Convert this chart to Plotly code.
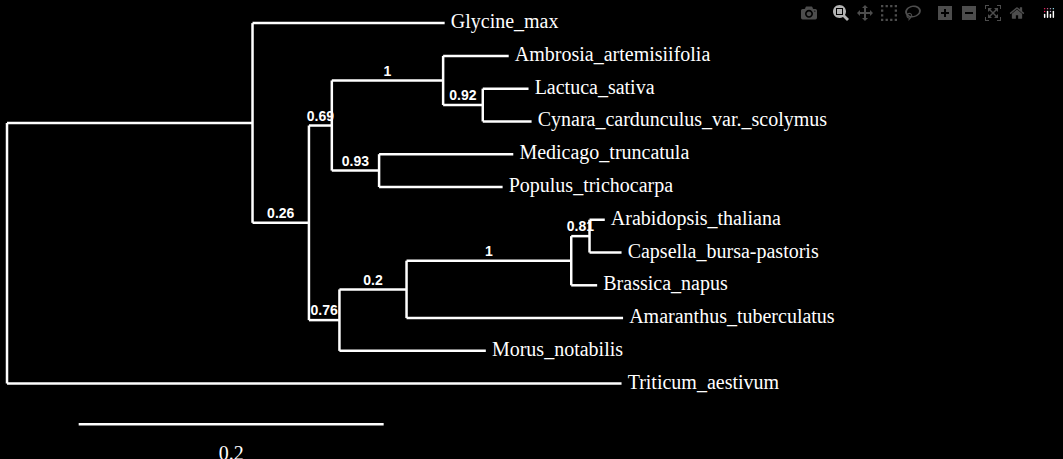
import plotly.graph_objects as go

# tree: node names, parent, branch length, support (internal nodes)
nodes = ["root", "A", "Glycine_max", "B", "C", "D", "Ambrosia_artemisiifolia", "E",
         "Lactuca_sativa", "Cynara_cardunculus_var._scolymus", "F", "Medicago_truncatula",
         "Populus_trichocarpa", "G", "H", "I", "J", "Arabidopsis_thaliana",
         "Capsella_bursa-pastoris", "Brassica_napus", "Amaranthus_tuberculatus",
         "Morus_notabilis", "Triticum_aestivum"]
parents = [None, "root", "A", "A", "B", "C", "D", "D", "E", "E", "C", "F", "F",
           "B", "G", "H", "I", "J", "J", "I", "H", "G", "root"]
lengths = [0, 0.161, 0.126, 0.037, 0.015, 0.073, 0.043, 0.026, 0.030, 0.032, 0.031,
           0.088, 0.081, 0.020, 0.044, 0.108, 0.012, 0.010, 0.021, 0.017, 0.142, 0.096, 0.403]
support = {"B": "0.26", "C": "0.69", "D": "1", "E": "0.92", "F": "0.93", "G": "0.76",
           "H": "0.2", "I": "1", "J": "0.81"}
scale_len = 0.2

children = {n: [] for n in nodes}
for n, p in zip(nodes, parents):
    if p:
        children[p].append(n)
blen = dict(zip(nodes, lengths))
par = dict(zip(nodes, parents))

xs, ys = {}, {}
leaf_i = [0]
def layout_node(n, x):
    xs[n] = x
    if not children[n]:
        ys[n] = leaf_i[0]
        leaf_i[0] += 1
    else:
        for c in children[n]:
            layout_node(c, x + blen[c])
        ys[n] = sum(ys[c] for c in children[n]) / len(children[n])
layout_node("root", 0)

lx, ly = [], []
for n in nodes:
    if par[n]:
        lx += [xs[par[n]], xs[n], None]
        ly += [ys[n], ys[n], None]
    if children[n]:
        cy = [ys[c] for c in children[n]]
        lx += [xs[n], xs[n], None]
        ly += [min(cy), max(cy), None]

leaves = [n for n in nodes if not children[n]]
fig = go.Figure()
fig.add_trace(go.Scatter(x=lx, y=ly, mode="lines", line=dict(color="white", width=2.5),
                         hoverinfo="skip"))
fig.add_trace(go.Scatter(x=[xs[n] + 0.004 for n in leaves], y=[ys[n] for n in leaves],
                         mode="text", text=leaves, textposition="middle right",
                         textfont=dict(family="Liberation Serif", size=20, color="white")))
sn = list(support)
fig.add_trace(go.Scatter(x=[(xs[n] + xs[par[n]]) / 2 for n in sn], y=[ys[n] - 0.04 for n in sn],
                         mode="text", text=[support[n] for n in sn], textposition="top center",
                         textfont=dict(family="Liberation Sans", size=14, color="white", weight="bold")))
# scale bar
fig.add_trace(go.Scatter(x=[0.047, 0.047 + scale_len], y=[12.24, 12.24], mode="lines",
                         line=dict(color="white", width=2.5)))
fig.add_trace(go.Scatter(x=[0.047 + scale_len / 2], y=[13.17], mode="text", text=[str(scale_len)],
                         textfont=dict(family="Liberation Serif", size=20, color="white")))

fig.update_layout(width=1063, height=459, margin=dict(l=0, r=0, t=0, b=0),
                  paper_bgcolor="black", plot_bgcolor="black", showlegend=False,
                  xaxis=dict(range=[-0.0046, 0.6925], visible=False),
                  yaxis=dict(range=[13.3, -0.705], visible=False))
fig.write_html("out.html", post_script="document.body.style.margin='0';document.body.style.background='black';")
